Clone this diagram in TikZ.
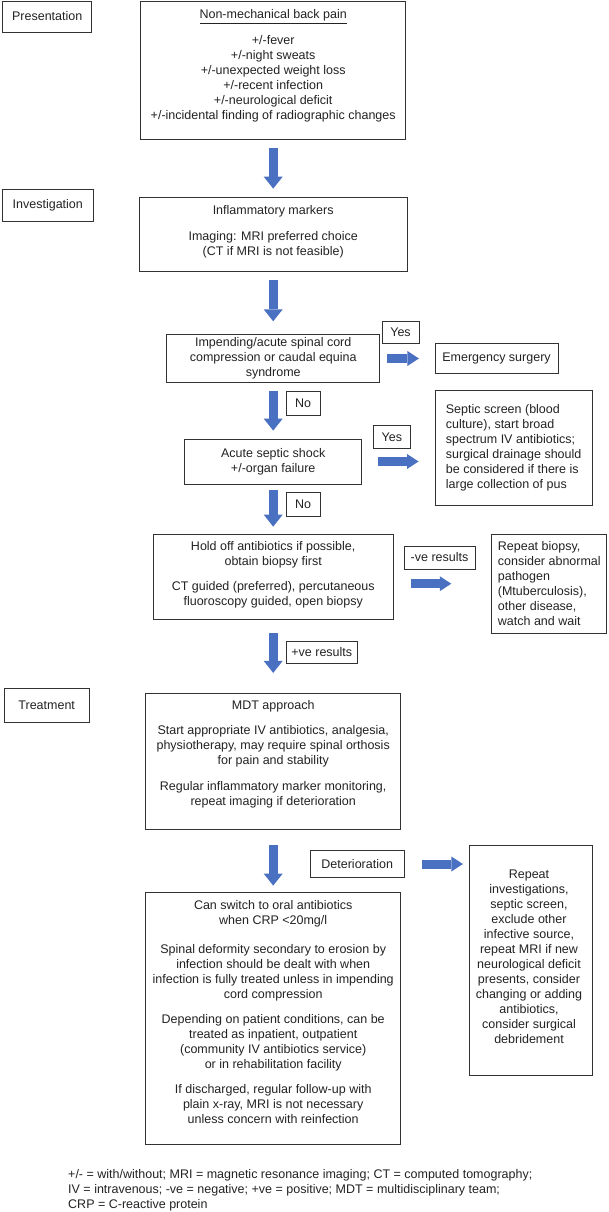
\documentclass[tikz,border=0pt]{standalone}
\usepackage{fontspec}
\setmainfont{Liberation Sans}
\usetikzlibrary{arrows.meta,calc}
\definecolor{arrowblue}{RGB}{74,112,193}
\definecolor{boxline}{RGB}{50,50,50}
\definecolor{txtcol}{RGB}{35,35,35}
\begin{document}
\begin{tikzpicture}[x=1pt,y=-1pt,
  box/.style={draw=boxline, line width=0.8pt, rectangle, inner sep=0pt},
  lbl/.style={box, text=txtcol, font=\fontsize{12.5}{15}\selectfont},
  txt/.style={inner sep=0pt, align=center, text=txtcol, font=\fontsize{12.5}{15}\selectfont},
  ltxt/.style={txt, align=left, anchor=west},
  varrow/.style={draw=arrowblue, line width=9pt, -{Triangle[width=19pt,length=12pt,line width=0pt]}},
  harrow/.style={draw=arrowblue, line width=9pt, -{Triangle[width=15pt,length=11.5pt,line width=0pt]}}
]
\path[use as bounding box, fill=white] (0,0) rectangle (608,1212);

% phase labels
\node[lbl, minimum width=89pt, minimum height=31pt] (pres) at (47.2,16.5) {Presentation};
\node[lbl, minimum width=90.3pt, minimum height=32pt] (inv) at (47.8,205) {Investigation};
\node[lbl, minimum width=85.3pt, minimum height=34.7pt] (treat) at (46.7,705.3) {Treatment};

% main boxes
\node[box, minimum width=265.3pt, minimum height=138.4pt] (top) at (273.2,70.2) {};
\node[box, minimum width=267.4pt, minimum height=73.3pt] (infl) at (273.2,234.3) {};
\node[box, minimum width=213.3pt, minimum height=48.4pt] (imp) at (273.2,358.5) {};
\node[lbl, minimum width=123pt, minimum height=30pt] (emerg) at (496.5,358.5) {Emergency surgery};
\node[box, minimum width=176.7pt, minimum height=45pt] (acute) at (273.2,461.5) {};
\node[box, minimum width=157.7pt, minimum height=114.3pt] (septic) at (513.8,447.8) {};
\node[box, minimum width=239.7pt, minimum height=85.3pt] (hold) at (273.2,576.7) {};
\node[box, minimum width=115.7pt, minimum height=99.3pt] (biopsy) at (548.8,583.7) {};
\node[box, minimum width=255pt, minimum height=136pt] (mdt) at (273.2,761) {};
\node[box, minimum width=255.3pt, minimum height=252pt] (can) at (273.2,1018.3) {};
\node[box, minimum width=123pt, minimum height=230.3pt] (repinv) at (530.8,960.2) {};

% small labels
\node[lbl, minimum width=37pt, minimum height=22pt] (yes1) at (400.5,332) {Yes};
\node[lbl, minimum width=34pt, minimum height=24pt] (no1) at (303,403) {No};
\node[lbl, minimum width=37.7pt, minimum height=22.6pt] (yes2) at (391.8,437) {Yes};
\node[lbl, minimum width=34pt, minimum height=23.3pt] (no2) at (303,504.3) {No};
\node[lbl, minimum width=71pt, minimum height=23pt] (neg) at (439.5,557.5) {-ve results};
\node[lbl, minimum width=71.7pt, minimum height=22pt] (pos) at (321.8,652) {+ve results};
\node[lbl, minimum width=94.3pt, minimum height=26.7pt] (deter) at (357.2,864) {Deterioration};

% texts
\node[txt] (t-top) at (273.2,65.9) {\underline{Non-mechanical back pain}\\[10.3pt]
  +/-fever\\ +/-night sweats\\ +/-unexpected weight loss\\ +/-recent infection\\
  +/-neurological deficit\\ +/-incidental finding of radiographic changes};
\node[txt] (t-infl) at (273.2,231.7) {Inflammatory markers\\[11pt]
  Imaging: MRI preferred choice\\ (CT if MRI is not feasible)};
\node[txt] (t-imp) at (273.2,358) {Impending/acute spinal cord\\ compression or caudal equina\\ syndrome};
\node[txt] (t-acute) at (273.2,461.7) {Acute septic shock\\ +/-organ failure};
\node[ltxt] (t-septic) at (445.7,448) {Septic screen (blood\\ culture), start broad\\
  spectrum IV antibiotics;\\ surgical drainage should\\ be considered if there is\\ large collection of pus};
\node[txt] (t-hold) at (273.2,574.7) {Hold off antibiotics if possible,\\ obtain biopsy first\\[10.6pt]
  CT guided (preferred), percutaneous\\ fluoroscopy guided, open biopsy};
\node[ltxt] (t-biopsy) at (497.7,583.7) {Repeat biopsy,\\ consider abnormal\\ pathogen\\
  (Mtuberculosis),\\ other disease,\\ watch and wait};
\node[txt] (t-mdt) at (273.2,753.9) {MDT approach\\[10pt]
  Start appropriate IV antibiotics, analgesia,\\ physiotherapy, may require spinal orthosis\\
  for pain and stability\\[11pt]
  Regular inflammatory marker monitoring,\\ repeat imaging if deterioration};
\node[txt] (t-can) at (273.2,1011.7) {Can switch to oral antibiotics\\ when CRP <20mg/l\\[14pt]
  Spinal deformity secondary to erosion by\\ infection should be dealt with when\\
  infection is fully treated unless in impending\\ cord compression\\[10pt]
  Depending on patient conditions, can be\\ treated as inpatient, outpatient\\
  (community IV antibiotics service)\\ or in rehabilitation facility\\[10pt]
  If discharged, regular follow-up with\\ plain x-ray, MRI is not necessary\\ unless concern with reinfection};
\node[txt] (t-repinv) at (529,956.8) {Repeat\\ investigations,\\ septic screen,\\ exclude other\\
  infective source,\\ repeat MRI if new\\ neurological deficit\\ presents, consider\\
  changing or adding\\ antibiotics,\\ consider surgical\\ debridement};
\node[ltxt] (foot) at (68,1190) {+/- = with/without; MRI = magnetic resonance imaging; CT = computed tomography;\\
  IV = intravenous; -ve = negative; +ve = positive; MDT = multidisciplinary team;\\
  CRP = C-reactive protein};

% vertical block arrows
\draw[varrow, shorten <=8.6pt, shorten >=8.6pt] (top.south) -- (infl.north);
\draw[varrow, shorten <=9pt, shorten >=12.6pt] (infl.south) -- (imp.north);
\draw[varrow, shorten <=8.3pt, shorten >=8pt] (imp.south) -- (acute.north);
\draw[varrow, shorten <=6pt, shorten >=7pt] (acute.south) -- (hold.north);
\draw[varrow, shorten <=13.7pt, shorten >=19.7pt] (hold.south) -- (mdt.north);
\draw[varrow, shorten <=16pt, shorten >=6.3pt] (mdt.south) -- (can.north);

% horizontal block arrows
\draw[harrow, shorten <=6.7pt, shorten >=15.7pt] (imp.east) -- (emerg.west);
\draw[harrow, shorten <=16.3pt, shorten >=16pt] (acute.east) -- (acute.east -| septic.west);
\draw[harrow, shorten <=17.3pt, shorten >=39.3pt] (hold.east |- biopsy.west) -- (biopsy.west);
\draw[harrow, shorten <=17.4pt, shorten >=6pt] (deter.east) -- (deter.east -| repinv.west);
\end{tikzpicture}
\end{document}
